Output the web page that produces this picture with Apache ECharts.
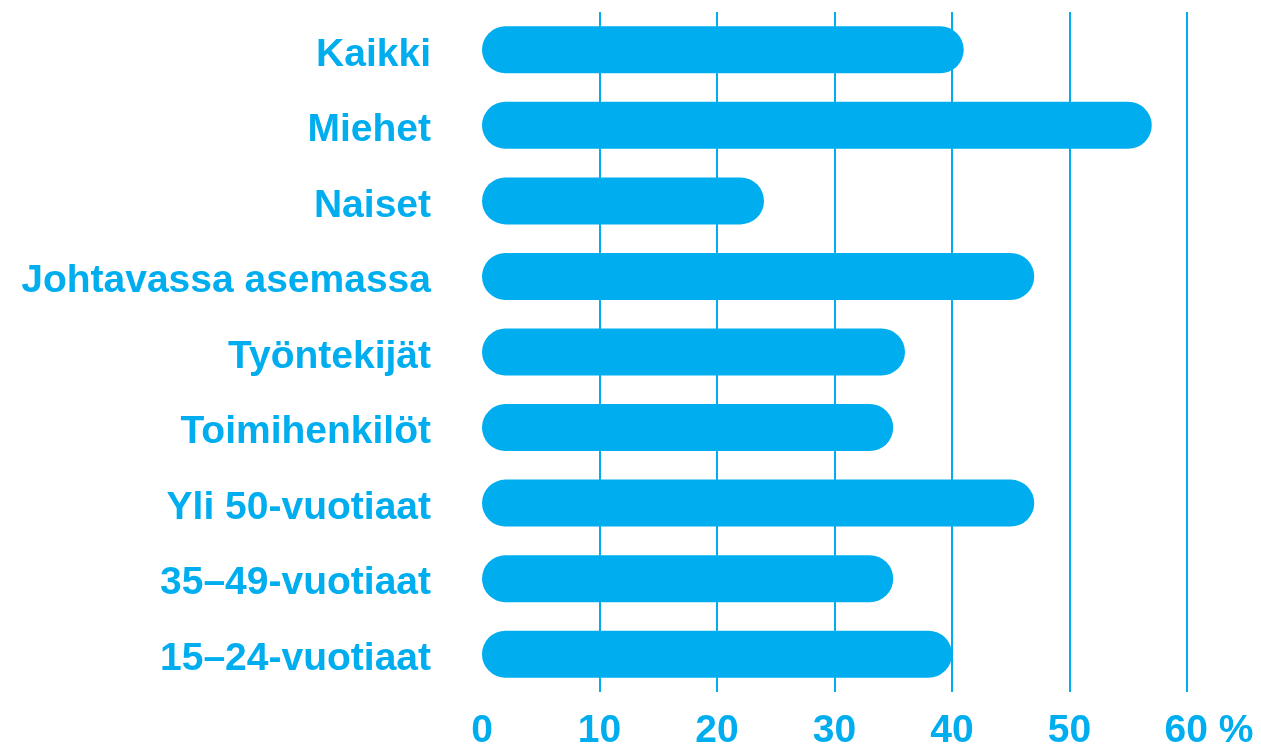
<!DOCTYPE html>
<html>
<head>
<meta charset="utf-8">
<title>Osuus</title>
<script src="https://cdn.jsdelivr.net/npm/echarts@6/dist/echarts.min.js"></script>
<style>
  html, body { margin: 0; padding: 0; background: #fff; }
  #chart { width: 1261px; height: 746px; }
</style>
</head>
<body>
<div id="chart"></div>
<script>
// ryhmät ylhäältä alas
const categories = [
  'Kaikki',
  'Miehet',
  'Naiset',
  'Johtavassa asemassa',
  'Työntekijät',
  'Toimihenkilöt',
  'Yli 50-vuotiaat',
  '35–49-vuotiaat',
  '15–24-vuotiaat'
]
const values = [41, 57, 24, 47, 36, 35, 47, 35, 40] // %
const xTicks = [0, 10, 20, 30, 40, 50, 60]

const blue = '#00AEEF'
const font = '"Liberation Sans", Arial, sans-serif'
const textStyle = { fontSize: 39, fontFamily: font, fontWeight: 'bold', color: blue }

const chart = echarts.init(document.getElementById('chart'))
chart.setOption({
  animation: false,
  grid: {
    left: 482,
    right: 74,
    top: 12,
    bottom: 54,
    outerBoundsMode: 'none'
  },
  xAxis: {
    type: 'value',
    min: xTicks[0],
    max: xTicks[xTicks.length - 1],
    interval: 10,
    axisLine: { show: false },
    axisTick: { show: false },
    splitLine: {
      show: true,
      // ei viivaa nollan kohdalla
      lineStyle: { color: ['rgba(0,0,0,0)', blue, blue, blue, blue, blue, blue], width: 2 }
    },
    axisLabel: {
      margin: 20,
      ...textStyle,
      formatter: function (v) {
        if (v === xTicks[xTicks.length - 1]) {
          return '{s|}{v|' + v + '}{p| %}'
        }
        return String(v)
      },
      rich: {
        s: { width: 44, ...textStyle },
        v: { ...textStyle },
        p: { ...textStyle }
      }
    }
  },
  yAxis: {
    type: 'category',
    inverse: true,
    data: categories,
    axisLine: { show: false },
    axisTick: { show: false },
    splitLine: { show: false },
    axisLabel: {
      margin: 51,
      ...textStyle,
      formatter: function (v) {
        return '{c|' + v + '}'
      },
      rich: {
        c: { ...textStyle, padding: [10, 0, 0, 0] }
      }
    }
  },
  series: [
    {
      type: 'bar',
      data: values,
      barWidth: 47,
      itemStyle: {
        color: blue,
        borderRadius: 23.5
      }
    }
  ]
})
</script>
</body>
</html>
